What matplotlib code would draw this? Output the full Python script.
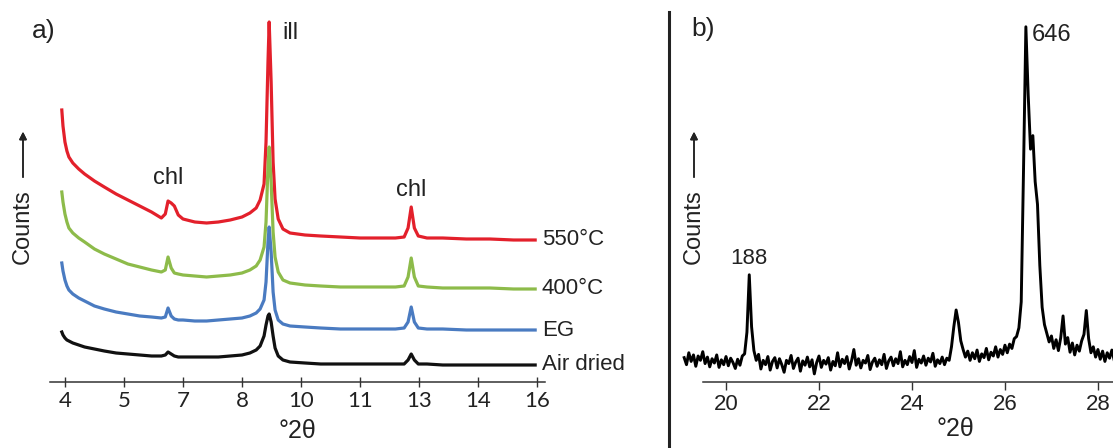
import matplotlib
matplotlib.use("Agg")
import matplotlib.pyplot as plt
from matplotlib.lines import Line2D
import numpy as np

plt.rcParams['font.family'] = ['Liberation Sans', 'DejaVu Sans']

W, H = 1113, 448

# ---- panel a: clay fraction patterns (stacked, arbitrary counts) ----
two_theta_a = [3.92, 3.95, 4.0, 4.05, 4.1, 4.2, 4.35, 4.5, 4.75, 5.0,
               5.3, 5.6, 5.9, 6.2, 6.45, 6.55, 6.62, 6.7, 6.78, 6.88,
               7.0, 7.3, 7.6, 7.9, 8.2, 8.5, 8.7, 8.86, 8.96, 9.06,
               9.11, 9.16, 9.19, 9.24, 9.29, 9.34, 9.42, 9.54, 9.72, 10.1,
               10.5, 11.0, 11.5, 12.0, 12.4, 12.62, 12.72, 12.80, 12.88, 12.98,
               13.2, 13.6, 14.2, 14.8, 15.4, 15.95]

heated_550 = [272, 256, 240, 231, 225, 219, 213, 208, 201, 195,
              188, 182, 176, 170, 164, 168, 181, 179, 176, 167,
              163, 160, 159, 160, 162, 165, 169, 174, 182, 198,
              240, 320, 360, 300, 220, 183, 163, 153, 149, 147,
              146, 145, 144, 144, 144, 145, 154, 175, 154, 146,
              144, 144, 143, 143, 142, 142]

heated_400 = [190, 180, 168, 160, 154, 149, 144, 140, 133, 128,
              123, 118, 115, 112, 110, 112, 125, 114, 109, 108,
              107, 106, 105, 106, 107, 109, 112, 116, 122, 135,
              160, 215, 235, 200, 150, 125, 110, 102, 99, 97,
              96, 95, 95, 95, 95, 96, 105, 124, 105, 96,
              95, 94, 94, 94, 93, 93]

glycolated = [119, 111, 102, 96, 92, 88, 84, 81, 76, 73,
              70, 68, 66, 65, 64, 65, 74, 66, 63, 62,
              62, 61, 61, 62, 63, 64, 66, 69, 73, 82,
              100, 140, 155, 130, 90, 72, 62, 58, 56, 55,
              54, 53, 53, 53, 53, 54, 60, 75, 60, 54,
              53, 53, 52, 52, 52, 52]

air_dried = [50, 47, 44, 42, 41, 39, 37, 35, 33, 31,
             29, 28, 27, 26, 26, 27, 30, 28, 26, 25,
             25, 25, 25, 25, 26, 27, 29, 32, 36, 46,
             57, 66, 68, 60, 46, 34, 26, 22, 20, 19,
             18, 18, 18, 18, 18, 18, 22, 28, 22, 18,
             18, 17, 17, 17, 17, 17]

series_a = [heated_550, heated_400, glycolated, air_dried]
names_a = ['550°C', '400°C', 'EG', 'Air dried']
colors_a = ['#e3202b', '#8dbb4a', '#4a7bc1', '#111111']

ticks_a = [4, 5.5, 7, 8.5, 10, 11.5, 13, 14.5, 16]
ticklabels_a = ['4', '5', '7', '8', '10', '11', '13', '14', '16']

peaks_a = [(6.62, 204, 'chl'), (12.81, 192, 'chl')]

# ---- panel b: random powder, 0.05° steps from 19.10° ----
start_b, step_b = 19.10, 0.05
counts_b = [35, 22, 44, 28, 40, 19, 38, 30, 46, 24,
            36, 18, 33, 25, 40, 17, 31, 22, 37, 20,
            34, 26, 15, 32, 21, 38, 42, 82, 188, 92,
            48, 30, 41, 14, 30, 22, 37, 12, 28, 35,
            16, 33, 22, 8, 30, 24, 39, 15, 27, 34,
            10, 29, 21, 36, 18, 31, 5, 26, 38, 17,
            30, 23, 35, 12, 28, 20, 44, 18, 32, 24,
            37, 14, 29, 50, 21, 33, 16, 30, 25, 39,
            13, 27, 34, 19, 31, 22, 41, 15, 29, 36,
            20, 33, 24, 46, 18, 30, 22, 37, 26, 48,
            17, 32, 25, 38, 21, 34, 27, 43, 19, 31,
            24, 36, 22, 34, 30, 55, 92, 123, 100, 66,
            50, 36, 47, 30, 44, 33, 49, 28, 42, 35,
            52, 31, 45, 38, 55, 36, 50, 41, 58, 44,
            60, 52, 70, 74, 90, 138, 385, 646, 520, 420,
            445, 360, 318, 205, 128, 96, 80, 64, 75, 52,
            68, 48, 72, 112, 60, 72, 45, 62, 40, 58,
            47, 66, 78, 122, 70, 44, 55, 36, 50, 32,
            47, 28, 44, 34, 49, 30, 42]
ticks_b = [20, 22, 24, 26, 28]

fig = plt.figure(figsize=(W / 100, H / 100), dpi=100)


def px_rect(left, top, right, bottom):
    return [left / W, 1 - bottom / H, (right - left) / W, (bottom - top) / H]


def bare_axis(ax):
    for side in ('left', 'right', 'top'):
        ax.spines[side].set_visible(False)
    ax.spines['bottom'].set_linewidth(1.1)
    ax.spines['bottom'].set_color('#333333')
    ax.set_yticks([])
    ax.patch.set_alpha(0)


# panel a
ax1 = fig.add_axes(px_rect(50, 10, 545, 382))
bare_axis(ax1)
for vals, name, col in zip(series_a, names_a, colors_a):
    ax1.plot(two_theta_a, vals, color=col, lw=2.3, solid_joinstyle='round')
    ax1.text(16.12, vals[-1], name, fontsize=16, va='center', ha='left',
             color='#222222', clip_on=False)
ax1.set_xlim(3.62, 16.2)
ax1.set_ylim(0, 372)
ax1.set_xticks(ticks_a)
ax1.set_xticklabels(ticklabels_a, fontsize=16, family='Lato', color='#222222')
ax1.tick_params(axis='x', direction='inout', length=7, width=1, colors='#333333',
                pad=3, labelcolor='#222222')
for x, y, s in peaks_a:
    ax1.text(x, y, s, fontsize=17, ha='center', va='center', color='#222222')
ax1.text(9.52, 349, 'ill', fontsize=17, ha='left', va='center', color='#222222')
ax1.set_xlabel('°2θ', fontsize=18, labelpad=6, color='#222222')

# panel b
ax2 = fig.add_axes(px_rect(703, 10, 1150, 382))
bare_axis(ax2)
two_theta_b = start_b + step_b * np.arange(len(counts_b))
ax2.plot(two_theta_b, counts_b, color='black', lw=2.1, clip_on=False)
ax2.set_xlim(19.505, 29.12)
ax2.set_ylim(-10, 677)
ax2.set_xticks(ticks_b)
ax2.tick_params(axis='x', direction='out', length=6, width=1, colors='#333333',
                pad=3, labelsize=16, labelcolor='#222222')
i188 = int(np.argmax(counts_b[:60]))
ax2.text(two_theta_b[i188], 219, str(counts_b[i188]), fontsize=16,
         ha='center', va='center', color='#222222')
imax = int(np.argmax(counts_b))
ax2.text(two_theta_b[imax] + 0.13, 631, str(counts_b[imax]), fontsize=17,
         ha='left', va='center', color='#222222')
ax2.set_xlabel('°2θ', fontsize=18, color='#222222')
ax2.xaxis.set_label_coords((955 - 703) / 447, -0.095)

# panel letters, y labels with arrows, separator
fig.text(44 / W, 1 - 31 / H, 'a)', fontsize=19, ha='center', va='center', color='#222222')
fig.text(703 / W, 1 - 29 / H, 'b)', fontsize=19, ha='center', va='center', color='#222222')
for xc in (23, 694):
    fig.text(xc / W, 1 - 227 / H, 'Counts', rotation=90, fontsize=17,
             ha='center', va='center', color='#222222')
    fig.add_artist(plt.annotate('', xy=(xc, H - 129), xytext=(xc, H - 180),
                                xycoords='figure pixels', textcoords='figure pixels',
                                arrowprops=dict(arrowstyle='-|>', lw=1.1, color='#222222',
                                                mutation_scale=11)))
fig.add_artist(Line2D([669 / W, 669 / W], [0, 1 - 12 / H], transform=fig.transFigure,
                      color='#222222', lw=2.2))

fig.savefig('out.png', dpi=100)
